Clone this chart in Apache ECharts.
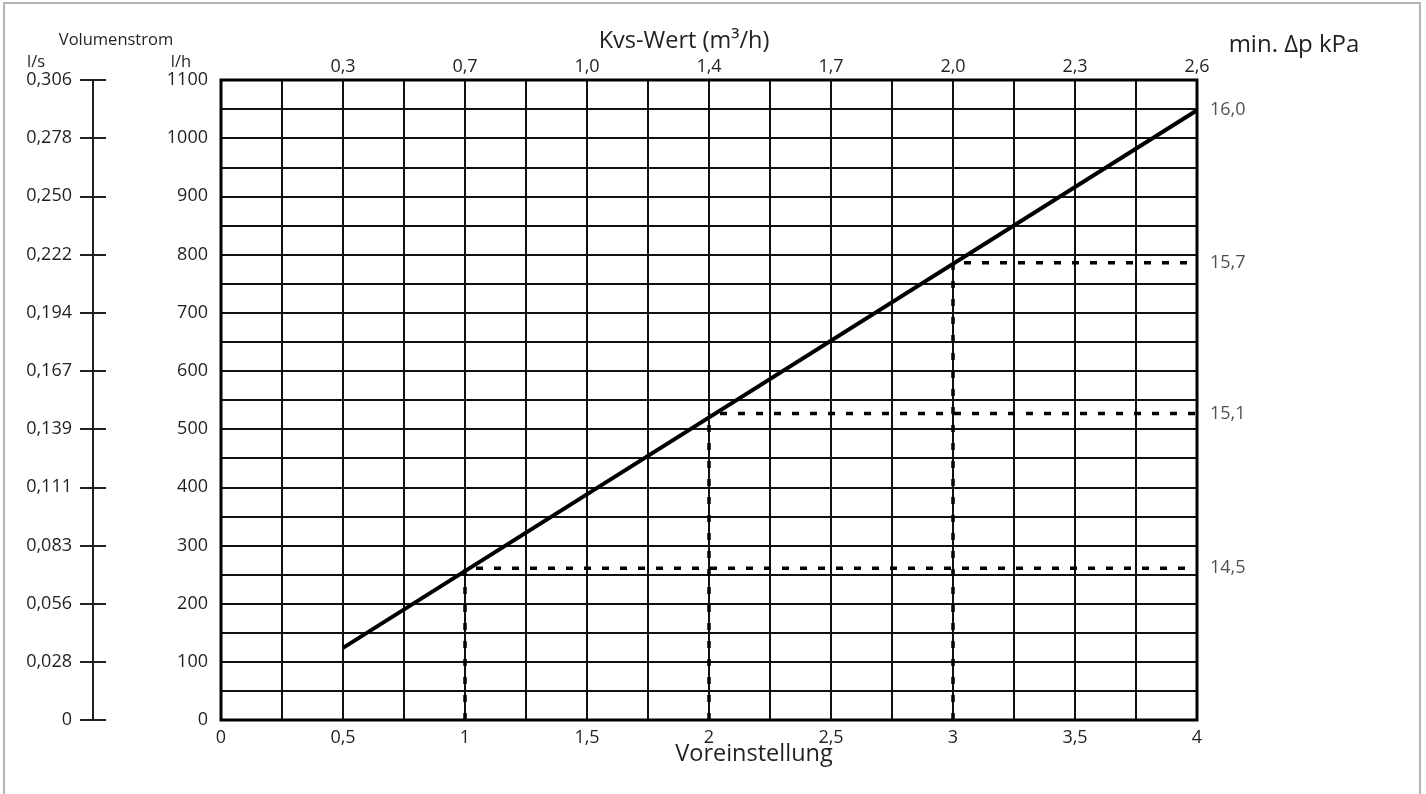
<!DOCTYPE html>
<html>
<head>
<meta charset="utf-8">
<script src="https://cdn.jsdelivr.net/npm/echarts@6/dist/echarts.min.js"></script>
<style>html,body{margin:0;padding:0;background:#fff}#c{width:1426px;height:794px}</style>
</head>
<body>
<div id="c"></div>
<script>
// ---- data ----
const xTickLabels = ["0","0,5","1","1,5","2","2,5","3","3,5","4"];
const kvsLabels = ["","0,3","0,7","1,0","1,4","1,7","2,0","2,3","2,6"];
const lsLabels = ["0","0,028","0,056","0,083","0,111","0,139","0,167","0,194","0,222","0,250","0,278","0,306"];
const mainLine = [[0.5,124],[4,1048]];
const presetX = [1,2,3];
const presetFlow = [261,527,786];
const dpValues = [1048,786,527,261];
const dpLabels = ["16,0","15,7","15,1","14,5"];

const FONT = "Open Sans";
const TXT = "#231f20";
const chart = echarts.init(document.getElementById('c'));

const dashed = [];
presetX.forEach((x,i)=>{
  const f = presetFlow[i];
  dashed.push({type:'line',xAxisIndex:0,yAxisIndex:0,symbol:'none',silent:true,z:3,
    data:[[x,0],[x,f]],lineStyle:{color:'#000',width:3.5,type:[7,11],dashOffset:0}});
  dashed.push({type:'line',xAxisIndex:0,yAxisIndex:0,symbol:'none',silent:true,z:3,
    data:[[x,f],[4,f]],lineStyle:{color:'#000',width:3.5,type:[7,11],dashOffset:7}});
});

const option = {
  animation:false,
  backgroundColor:'#fff',
  grid:{left:221,top:80,width:976,height:640,show:true,borderColor:'#000',borderWidth:3,backgroundColor:'transparent',z:4,containLabel:false},
  xAxis:[
    {type:'value',position:'bottom',min:0,max:4,interval:0.25,
      axisLine:{show:false,onZero:false},axisTick:{show:false},
      splitLine:{show:true,lineStyle:{color:'#111',width:2}},
      axisLabel:{margin:9,fontFamily:FONT,fontSize:18,color:TXT,showMinLabel:true,showMaxLabel:true,
        formatter:v=>{const k=Math.round(v/0.5);return Math.abs(v-k*0.5)<1e-6?xTickLabels[k]:'';}}},
    {type:'value',position:'top',min:0,max:4,interval:0.5,
      axisLine:{show:false,onZero:false},axisTick:{show:false},splitLine:{show:false},
      axisLabel:{margin:4,fontFamily:FONT,fontSize:18,color:TXT,showMinLabel:true,showMaxLabel:true,
        formatter:v=>kvsLabels[Math.round(v/0.5)]}}
  ],
  yAxis:[
    {type:'value',position:'left',min:0,max:1100,interval:50,
      axisLine:{show:false,onZero:false},axisTick:{show:false},
      splitLine:{show:true,lineStyle:{color:'#111',width:2}},
      axisLabel:{margin:13,fontFamily:FONT,fontSize:18,color:TXT,showMinLabel:true,showMaxLabel:true,
        formatter:v=>(Math.round(v)%100===0?String(v):'')}},
    {type:'value',position:'left',offset:128,min:0,max:1100,interval:100,
      axisLine:{show:true,onZero:false,lineStyle:{color:'#231f20',width:2}},
      axisTick:{show:true,inside:false,length:13,lineStyle:{color:'#231f20',width:2}},
      splitLine:{show:false},
      axisLabel:{margin:21,fontFamily:FONT,fontSize:18,color:TXT,showMinLabel:true,showMaxLabel:true,
        formatter:v=>lsLabels[Math.round(v/100)]}},
    {type:'value',position:'left',offset:128,min:0,max:1100,interval:100,
      axisLine:{show:false,onZero:false},
      axisTick:{show:true,inside:true,length:13,lineStyle:{color:'#231f20',width:2}},
      splitLine:{show:false},axisLabel:{show:false}}
  ],
  series:[
    {type:'line',xAxisIndex:0,yAxisIndex:0,symbol:'none',silent:true,z:5,data:mainLine,
      lineStyle:{color:'#000',width:4}},
    ...dashed,
    {type:'scatter',xAxisIndex:0,yAxisIndex:0,symbolSize:0,silent:true,
      data:dpValues.map(v=>[4,v]),
      label:{show:true,position:'right',distance:13,fontFamily:FONT,fontSize:18,color:TXT,
        formatter:p=>dpLabels[p.dataIndex]}}
  ],
  graphic:[
    {type:'rect',shape:{x:4,y:3,width:1416,height:800},style:{fill:'none',stroke:'#b5b5b5',lineWidth:2},silent:true,z:-1},
    {type:'text',x:116,y:40,style:{text:'Volumenstrom',font:'16.5px "Open Sans"',fill:TXT,textAlign:'center',textVerticalAlign:'middle'}},
    {type:'text',x:36,y:62,style:{text:'l/s',font:'16.5px "Open Sans"',fill:TXT,textAlign:'center',textVerticalAlign:'middle'}},
    {type:'text',x:181,y:62,style:{text:'l/h',font:'16.5px "Open Sans"',fill:TXT,textAlign:'center',textVerticalAlign:'middle'}},
    {type:'text',x:684,y:41,style:{text:'Kvs-Wert (m³/h)',font:'23.5px "Open Sans"',fill:TXT,textAlign:'center',textVerticalAlign:'middle'}},
    {type:'text',x:1294,y:45,style:{text:'min. Δp kPa',font:'24px "Open Sans"',fill:TXT,textAlign:'center',textVerticalAlign:'middle'}},
    {type:'text',x:754,y:754,style:{text:'Voreinstellung',font:'23.5px "Open Sans"',fill:TXT,textAlign:'center',textVerticalAlign:'middle'}}
  ]
};
chart.setOption(option);
</script>
</body>
</html>
